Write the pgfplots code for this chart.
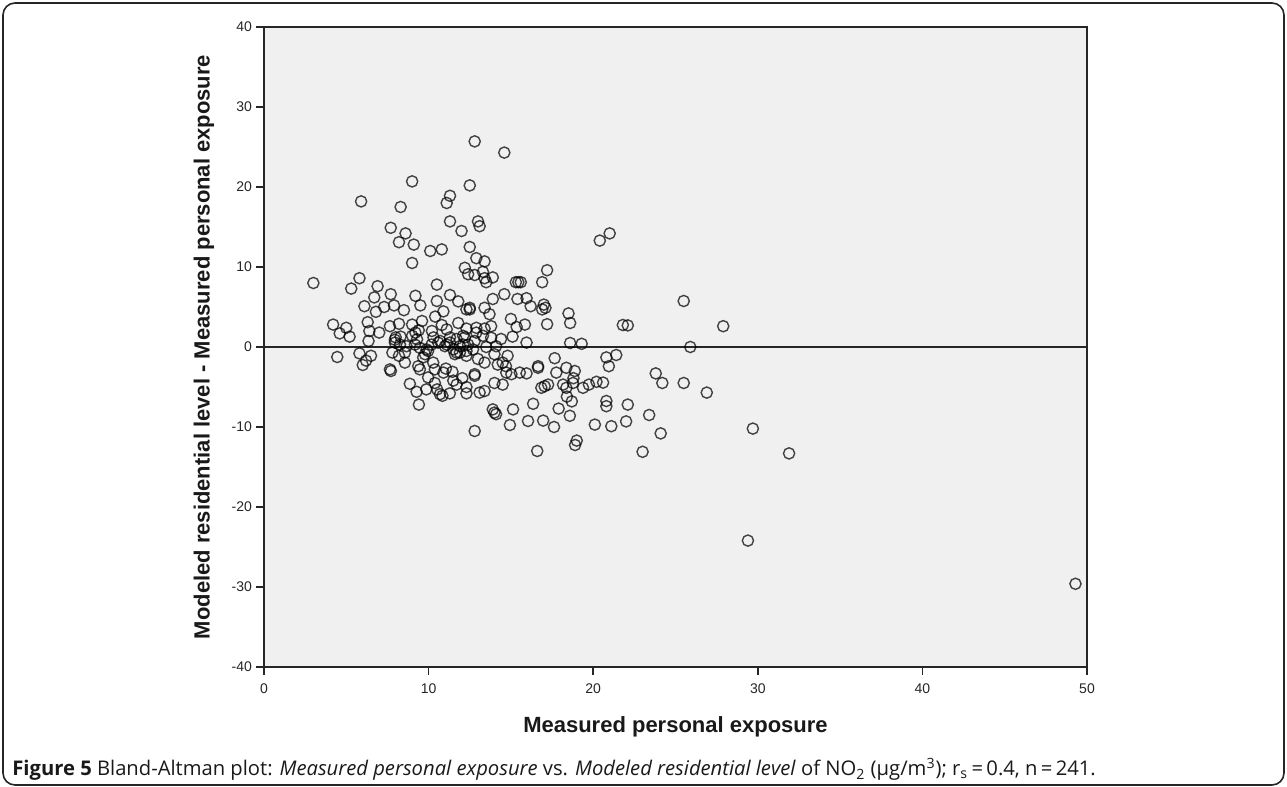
\documentclass[border=0pt]{standalone}
\usepackage{pgfplots}
\pgfplotsset{compat=1.18}
\usepackage{fontspec}
\setmainfont{Open Sans}
\newfontfamily\arialfont{Liberation Sans}
\definecolor{plotbg}{HTML}{F0F0F0}
\pgfplotstableread{
x y
12.8 25.7
14.6 24.3
9.0 20.7
12.5 20.2
5.9 18.2
11.3 18.9
11.1 18.0
8.3 17.5
11.3 15.7
13.0 15.7
13.1 15.1
12.0 14.5
7.7 14.9
8.6 14.2
8.2 13.1
9.1 12.8
10.1 12.0
10.8 12.2
12.5 12.5
20.4 13.3
21.0 14.2
9.0 10.5
12.9 11.1
13.4 10.7
12.2 9.9
12.4 9.1
12.8 9.0
13.3 9.4
13.4 8.6
13.5 8.1
13.9 8.7
17.2 9.6
15.3 8.1
15.45 8.1
15.6 8.1
16.9 8.1
3.0 8.0
5.8 8.6
5.3 7.3
6.9 7.6
10.5 7.8
6.7 6.2
7.7 6.6
9.2 6.4
11.3 6.5
14.6 6.6
13.9 6.0
15.4 6.0
15.95 6.1
25.5 5.75
6.1 5.1
7.3 5.0
7.9 5.2
9.5 5.2
10.5 5.75
11.8 5.7
16.2 5.1
17.0 5.3
17.1 4.9
16.9 4.7
6.8 4.4
8.5 4.6
10.9 4.45
12.5 4.9
12.5 4.7
13.4 4.9
13.7 4.1
12.3 4.7
18.5 4.2
18.6 3.0
4.2 2.8
5.0 2.4
4.6 1.7
5.2 1.3
6.3 3.1
6.4 2.0
6.35 0.75
7.0 1.8
7.65 2.6
8.2 2.9
8.0 1.2
9.0 2.8
9.2 1.8
9.6 3.25
10.2 2.0
10.4 3.8
10.8 2.75
11.8 3.0
12.3 2.3
12.9 2.4
13.4 2.3
13.8 2.6
15.0 3.5
15.35 2.5
15.85 2.8
17.2 2.85
21.8 2.75
22.1 2.7
27.9 2.6
14.4 1.0
15.1 1.3
15.95 0.55
18.6 0.5
19.3 0.4
13.5 0.0
9.0 1.4
9.4 2.1
7.95 0.9
8.3 1.3
10.3 1.2
11.1 2.2
11.3 1.2
11.7 1.0
12.1 1.4
12.2 1.2
12.8 0.75
12.1 0.3
25.9 0.0
7.95 0.55
8.26 0.3
8.66 0.1
8.56 -0.7
9.17 0.3
9.47 -0.1
9.88 -0.3
9.78 -0.9
10.18 0.3
10.58 0.55
10.99 0.1
11.3 0.55
11.5 -0.3
11.7 -0.7
11.9 0.1
12.4 0.3
12.3 -0.5
10.7 0.75
11.1 0.3
12.9 1.8
13.3 1.4
13.8 1.16
14.1 0.1
9.3 0.96
4.45 -1.25
5.8 -0.8
6.5 -1.1
6.2 -1.7
6.0 -2.25
7.65 -2.8
7.71 -3.0
7.8 -0.7
8.2 -1.1
8.56 -1.95
9.37 -2.4
9.47 -2.8
9.67 -1.3
9.97 -0.5
10.28 -1.95
10.38 -2.8
10.9 -3.2
11.05 -2.7
11.45 -3.1
9.97 -3.8
8.86 -4.6
9.27 -5.6
9.86 -5.3
10.38 -4.5
10.52 -5.3
10.69 -5.9
10.84 -6.1
11.29 -5.8
9.41 -7.2
12.05 -3.9
12.3 -5.0
12.3 -5.8
11.6 -0.9
11.9 -0.7
12.3 -1.1
12.7 -0.3
14.0 -0.9
14.8 -1.1
14.5 -1.95
13.0 -1.5
13.4 -1.95
14.2 -2.2
14.7 -2.4
17.66 -1.4
16.65 -2.4
16.65 -2.6
17.76 -3.2
18.37 -2.6
18.88 -3.0
20.8 -1.3
21.4 -1.0
20.95 -2.4
14.72 -3.2
15.03 -3.4
15.54 -3.2
15.95 -3.3
12.8 -3.4
12.8 -3.6
14.0 -4.5
14.5 -4.7
13.1 -5.7
13.4 -5.5
16.85 -5.1
17.05 -4.9
17.26 -4.7
18.17 -4.7
18.37 -5.1
18.77 -4.5
18.8 -3.9
19.38 -5.1
19.74 -4.7
20.2 -4.35
20.6 -4.45
18.4 -6.2
18.7 -6.8
20.8 -6.75
20.8 -7.4
16.35 -7.1
15.13 -7.8
13.9 -7.8
14.0 -8.2
14.1 -8.4
17.9 -7.7
16.04 -9.25
16.96 -9.2
17.62 -10.0
18.58 -8.6
14.94 -9.75
12.8 -10.5
20.1 -9.7
19.0 -11.7
18.9 -12.25
16.6 -13.0
23.8 -3.3
24.2 -4.5
25.5 -4.5
26.9 -5.7
23.4 -8.5
24.1 -10.8
23.0 -13.1
22.1 -7.2
22.0 -9.3
21.1 -9.9
29.7 -10.2
31.9 -13.3
29.4 -24.2
49.3 -29.6
11.7 -4.7
11.5 -4.2
}\datatable
\begin{document}
\begin{tikzpicture}
\path[use as bounding box] (0,0) rectangle (643.5pt,393.5pt);
\draw[line width=0.8pt, black!85, rounded corners=6pt] (1.5pt,1pt) rectangle (642pt,392pt);
\begin{axis}[
  at={(132pt,60pt)}, anchor=south west,
  scale only axis, width=411.5pt, height=320pt,
  xmin=0, xmax=50, ymin=-40, ymax=40,
  xtick={0,10,...,50}, ytick={-40,-30,...,40},
  axis background/.style={fill=plotbg},
  axis line style={black!85, line width=0.8pt},
  tick style={black!85, line width=0.8pt},
  tick align=outside, tick pos=left,
  major tick length=4pt,
  /pgf/number format/assume math mode=true,
  ticklabel style={font=\arialfont\fontsize{7}{8}\selectfont, black!85},
  xticklabel style={yshift=-1pt},
  yticklabel style={xshift=1.5pt},
  xlabel={Measured personal exposure},
  ylabel={Modeled residential level - Measured personal exposure},
  label style={font=\arialfont\bfseries\fontsize{11}{13}\selectfont, black!90},
  xlabel style={at={(axis description cs:0.5,0)}, anchor=base, yshift=-33pt},
  ylabel style={at={(axis description cs:-0.0729,0.5)}, anchor=center},
  clip=false,
]
\addplot[black!85, line width=1pt, forget plot] coordinates {(0,0) (50,0)};
\addplot[only marks, mark=o, mark size=2.8pt, mark options={draw=black, draw opacity=0.72, line width=0.7pt}] table[x=x,y=y] {\datatable};
\end{axis}
\node[anchor=base west, font=\fontsize{10.1}{12}\selectfont, text=black!90, inner sep=0pt] at (6pt,5.5pt)
  {\textbf{Figure 5} Bland-Altman plot: \textit{Measured personal exposure} vs. \textit{Modeled residential level} of NO\textsubscript{2} (µg/m\textsuperscript{3}); r\textsubscript{s}\,=\,0.4, n\,=\,241.};
\end{tikzpicture}
\end{document}
